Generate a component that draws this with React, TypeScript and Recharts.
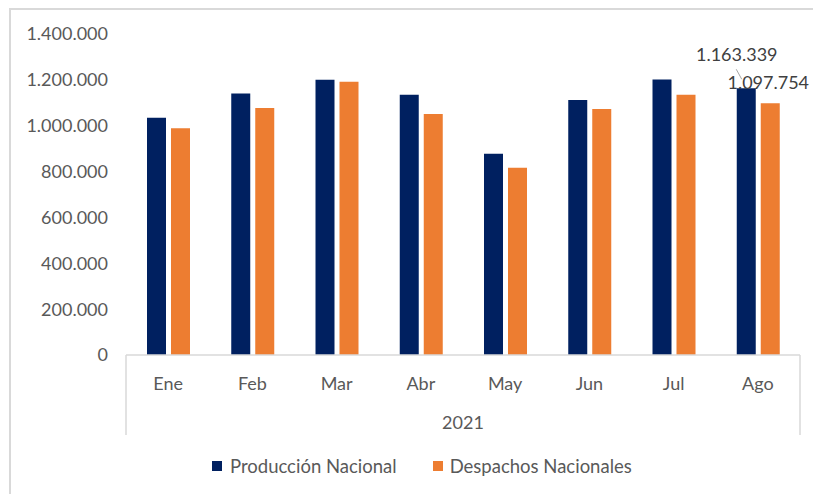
import React from 'react';
import { BarChart, Bar, XAxis, YAxis, LabelList } from 'recharts';

const months = ['Ene', 'Feb', 'Mar', 'Abr', 'May', 'Jun', 'Jul', 'Ago'];
const year = '2021';
const produccion = [1035000, 1140000, 1200000, 1135000, 878000, 1112000, 1202000, 1163339];
const despachos = [989000, 1077000, 1192000, 1051000, 817000, 1073000, 1135000, 1097754];
const labeledIndex = 7;
const yTicks = [0, 200000, 400000, 600000, 800000, 1000000, 1200000, 1400000];
const seriesNames = ['Producción Nacional', 'Despachos Nacionales'];
const colors = ['#002060', '#ED7D31'];

const FONT = 'Lato, "Open Sans", sans-serif';
const FS = 18;

const fmt = (v: number) => String(Math.round(v)).replace(/\B(?=(\d{3})+(?!\d))/g, '.');

const data = months.map((m, i) => ({
  month: m,
  prod: produccion[i],
  desp: despachos[i],
  prodLabel: i === labeledIndex ? fmt(produccion[i]) : null,
  despLabel: i === labeledIndex ? fmt(despachos[i]) : null,
}));

const MonthTick = (props: any) => {
  const { x, y, payload, index } = props;
  const half = payload && payload.offset ? payload.offset : 42;
  const n = months.length;
  const startX = x - half - index * 2 * half;
  const centerX = startX + n * half;
  return (
    <g>
      <text x={x} y={y + 28} textAnchor="middle" dominantBaseline="central" fill="#595959" fontSize={FS} fontFamily={FONT}>
        {payload.value}
      </text>
      {index === 0 && (
        <g>
          <line x1={x - half} x2={x - half} y1={y} y2={y + 80} stroke="#d9d9d9" strokeWidth={1.5} />
          <text x={centerX} y={y + 67} textAnchor="middle" dominantBaseline="central" fill="#595959" fontSize={FS} fontFamily={FONT}>
            {year}
          </text>
        </g>
      )}
      {index === n - 1 && (
        <line x1={x + half} x2={x + half} y1={y} y2={y + 80} stroke="#d9d9d9" strokeWidth={1.5} />
      )}
    </g>
  );
};

const ProdLabel = (props: any) => {
  const { x, y, width, value } = props;
  if (value == null) return null;
  const cx = x + width / 2;
  return (
    <g>
      <line x1={cx - 10} y1={y - 19} x2={cx - 4.5} y2={y - 9} stroke="#a6a6a6" strokeWidth={1} />
      <text x={cx - 9.5} y={y - 34} textAnchor="middle" dominantBaseline="central" fill="#404040" fontSize={FS} fontFamily={FONT}>
        {value}
      </text>
    </g>
  );
};

const DespLabel = (props: any) => {
  const { x, y, width, value } = props;
  if (value == null) return null;
  const cx = x + width / 2;
  return (
    <text x={cx - 2} y={y - 21} textAnchor="middle" dominantBaseline="central" fill="#404040" fontSize={FS} fontFamily={FONT}>
      {value}
    </text>
  );
};

export default function App() {
  return (
    <div style={{ position: 'absolute', left: 0, top: 0, width: 813, height: 494, background: '#fff', overflow: 'hidden' }}>
      <div style={{ position: 'absolute', left: 9, top: 8, width: 813, height: 494, borderLeft: '2px solid #d9d9d9', borderTop: '2px solid #d9d9d9' }} />
      <div style={{ position: 'absolute', left: 0, top: 0 }}>
        <BarChart width={813} height={494} data={data} margin={{ top: 34, right: 13, left: 0, bottom: 59 }} barSize={19} barGap={5}>
          <YAxis
            width={126}
            domain={[0, 1400000]}
            ticks={yTicks}
            tickFormatter={fmt}
            axisLine={false}
            tickLine={false}
            tickSize={0}
            tickMargin={18}
            tick={{ fill: '#595959', fontSize: FS, fontFamily: FONT }}
          />
          <XAxis
            dataKey="month"
            height={80}
            interval={0}
            tickLine={false}
            tickSize={0}
            tickMargin={0}
            axisLine={{ stroke: '#d9d9d9', strokeWidth: 1.5 }}
            tick={<MonthTick />}
          />
          <Bar dataKey="prod" name={seriesNames[0]} fill={colors[0]} isAnimationActive={false}>
            <LabelList dataKey="prodLabel" content={<ProdLabel />} />
          </Bar>
          <Bar dataKey="desp" name={seriesNames[1]} fill={colors[1]} isAnimationActive={false}>
            <LabelList dataKey="despLabel" content={<DespLabel />} />
          </Bar>
        </BarChart>
      </div>
      <div style={{ position: 'absolute', left: 212, top: 455, display: 'flex', alignItems: 'center', fontFamily: FONT, fontSize: 18.5, color: '#595959', whiteSpace: 'nowrap' }}>
        <span style={{ display: 'inline-block', width: 10, height: 10, background: colors[0], marginRight: 8 }} />
        <span>{seriesNames[0]}</span>
        <span style={{ display: 'inline-block', width: 10, height: 10, background: colors[1], marginLeft: 36, marginRight: 7 }} />
        <span>{seriesNames[1]}</span>
      </div>
    </div>
  );
}
